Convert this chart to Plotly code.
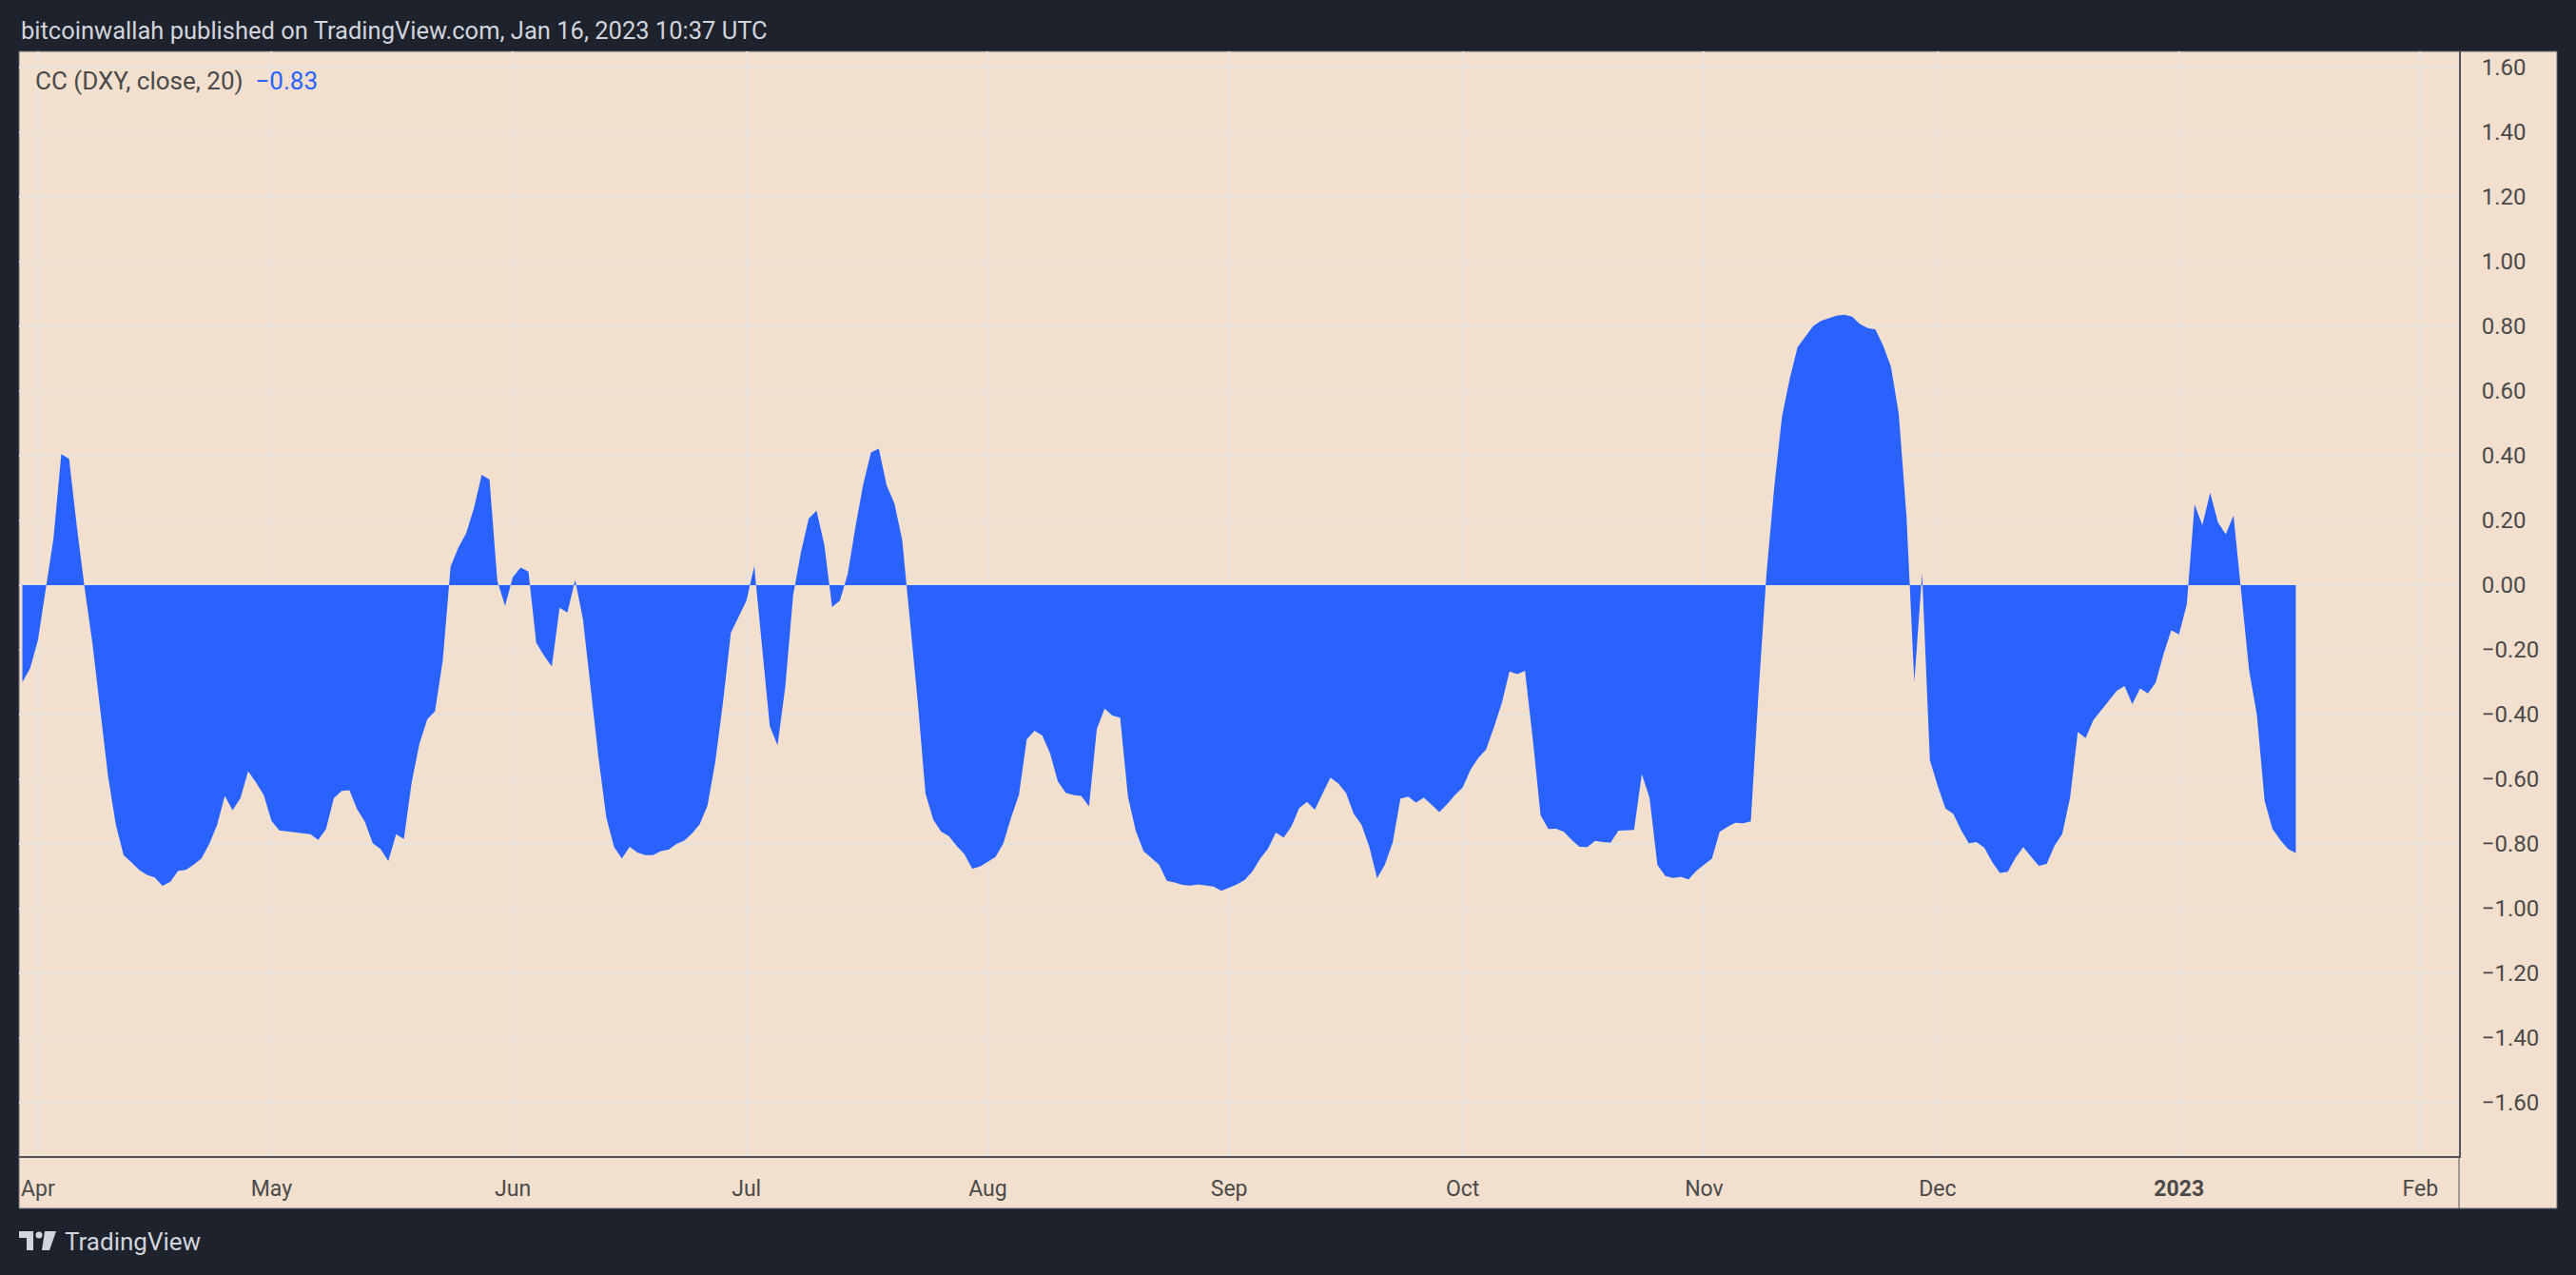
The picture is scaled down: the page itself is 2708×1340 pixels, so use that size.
import pandas as pd
import plotly.graph_objects as go

# CC (DXY, close, 20) - daily values, one list per month
cc_mar = [-0.30, -0.257]
cc_apr = [-0.17, -0.01, 0.145, 0.405, 0.39, 0.18, -0.01, -0.18, -0.39, -0.59,
          -0.74, -0.835, -0.857, -0.88, -0.896, -0.904, -0.93, -0.917, -0.883, -0.88,
          -0.864, -0.845, -0.80, -0.742, -0.652, -0.696, -0.659, -0.575, -0.61, -0.649]
cc_may = [-0.729, -0.758, -0.761, -0.764, -0.767, -0.77, -0.788, -0.754, -0.659, -0.636,
          -0.634, -0.693, -0.732, -0.798, -0.816, -0.853, -0.77, -0.785, -0.61, -0.49,
          -0.415, -0.39, -0.232, 0.057, 0.116, 0.16, 0.238, 0.341, 0.326, 0.013, -0.064]
cc_jun = [0.025, 0.054, 0.042, -0.178, -0.218, -0.252, -0.07, -0.085, 0.016, -0.105,
          -0.325, -0.534, -0.718, -0.81, -0.845, -0.809, -0.827, -0.835, -0.835, -0.822,
          -0.818, -0.80, -0.79, -0.768, -0.739, -0.681, -0.546, -0.36, -0.147, -0.095]
cc_jul = [-0.048, 0.059, -0.18, -0.436, -0.495, -0.311, -0.031, 0.101, 0.206, 0.23,
          0.125, -0.068, -0.048, 0.034, 0.18, 0.312, 0.41, 0.422, 0.309, 0.253,
          0.14, -0.105, -0.36, -0.644, -0.725, -0.762, -0.776, -0.806, -0.832, -0.877, -0.87]
cc_aug = [-0.855, -0.84, -0.798, -0.718, -0.649, -0.477, -0.45, -0.465, -0.52, -0.607,
          -0.642, -0.649, -0.652, -0.684, -0.445, -0.382, -0.403, -0.41, -0.654, -0.759,
          -0.822, -0.843, -0.864, -0.914, -0.919, -0.927, -0.929, -0.925, -0.929, -0.932, -0.945]
cc_sep = [-0.934, -0.925, -0.911, -0.885, -0.845, -0.814, -0.765, -0.78, -0.746, -0.689,
          -0.67, -0.694, -0.644, -0.595, -0.613, -0.642, -0.707, -0.741, -0.809, -0.906,
          -0.864, -0.796, -0.66, -0.654, -0.672, -0.657, -0.679, -0.702, -0.677, -0.649]
cc_oct = [-0.625, -0.571, -0.534, -0.508, -0.44, -0.366, -0.267, -0.275, -0.265, -0.477,
          -0.711, -0.754, -0.753, -0.763, -0.788, -0.809, -0.81, -0.791, -0.794, -0.796,
          -0.759, -0.759, -0.757, -0.584, -0.658, -0.864, -0.899, -0.905, -0.902, -0.91, -0.883]
cc_nov = [-0.864, -0.846, -0.763, -0.747, -0.735, -0.736, -0.73, -0.33, 0.03, 0.30,
          0.52, 0.638, 0.735, 0.768, 0.801, 0.817, 0.826, 0.833, 0.836, 0.83,
          0.807, 0.795, 0.79, 0.74, 0.675, 0.53, 0.212, -0.30, 0.036, -0.541]
cc_dec = [-0.62, -0.691, -0.707, -0.757, -0.798, -0.794, -0.812, -0.856, -0.89, -0.886,
          -0.843, -0.81, -0.84, -0.868, -0.862, -0.806, -0.769, -0.658, -0.454, -0.473,
          -0.417, -0.386, -0.356, -0.327, -0.312, -0.368, -0.319, -0.335, -0.302, -0.214, -0.14]
cc_jan = [-0.152, -0.059, 0.249, 0.185, 0.286, 0.194, 0.157, 0.215, -0.016, -0.263,
          -0.401, -0.667, -0.753, -0.788, -0.816, -0.828]

cc = cc_mar + cc_apr + cc_may + cc_jun + cc_jul + cc_aug + cc_sep + cc_oct + cc_nov + cc_dec + cc_jan
dates = pd.date_range('2022-03-30', periods=len(cc), freq='D')

month_ticks = pd.date_range('2022-04-01', '2023-02-01', freq='MS')
month_labels = ['Apr', 'May', 'Jun', 'Jul', 'Aug', 'Sep', 'Oct', 'Nov', 'Dec', '<b>2023</b>', 'Feb']

# colours
DARK = '#1e222d'
PEACH = '#f2dfce'
GRID = '#e6e2de'
BLUE = '#2962ff'
TEXT = '#4a4a4a'
LIGHT = '#d1d4dc'
BORDER = '#50535e'

# page geometry (px)
W, H = 2708, 1340
L, R, T, B = 20, 123, 54, 125
PW, PH = W - L - R, H - T - B


def px(x):
    return (x - L) / PW


def py(y):
    return (H - B - y) / PH


day0 = pd.Timestamp('2022-04-01')
x_range = [day0 - pd.Timedelta(days=2.43), day0 + pd.Timedelta(days=310.96)]

fig = go.Figure()
fig.add_trace(go.Scatter(x=dates, y=cc, mode='lines', fill='tozeroy',
                         fillcolor=BLUE, line=dict(width=0, color=BLUE),
                         hoverinfo='skip', showlegend=False))

shapes = [
    # chart pane incl. price and time axis panes
    dict(type='rect', xref='paper', yref='paper', x0=px(20), x1=px(2688),
         y0=py(1270), y1=py(54), fillcolor=PEACH,
         line=dict(color='#6a6d78', width=1), layer='below'),
    dict(type='line', xref='paper', yref='paper', x0=px(2585), x1=px(2585),
         y0=py(1215), y1=py(1270), line=dict(color=BORDER, width=1)),
    # TradingView logo
    dict(type='rect', xref='paper', yref='paper', x0=px(20), x1=px(35),
         y0=py(1301), y1=py(1294), fillcolor=LIGHT, line=dict(width=0)),
    dict(type='rect', xref='paper', yref='paper', x0=px(28), x1=px(35),
         y0=py(1314), y1=py(1294), fillcolor=LIGHT, line=dict(width=0)),
    dict(type='circle', xref='paper', yref='paper', x0=px(37.5), x1=px(44.5),
         y0=py(1301.5), y1=py(1294.5), fillcolor=LIGHT, line=dict(width=0)),
    dict(type='path', xref='paper', yref='paper',
         path=f'M {px(47)} {py(1294)} L {px(59)} {py(1294)} L {px(52)} {py(1314)} '
              f'L {px(44)} {py(1314)} Z',
         fillcolor=LIGHT, line=dict(width=0)),
]

annotations = [
    dict(text='bitcoinwallah published on TradingView.com, Jan 16, 2023 10:37 UTC',
         xref='paper', yref='paper', x=px(20), y=py(32), xanchor='left', yanchor='middle',
         showarrow=False, font=dict(size=25.5, color=LIGHT)),
    dict(text=f'CC (DXY, close, 20)  <span style="color:{BLUE}">\u22120.83</span>',
         xref='paper', yref='paper', x=px(35), y=py(85), xanchor='left', yanchor='middle',
         showarrow=False, font=dict(size=26, color=TEXT)),
    dict(text='TradingView', xref='paper', yref='paper', x=px(66), y=py(1305),
         xanchor='left', yanchor='middle', showarrow=False,
         font=dict(size=26, color=LIGHT)),
]

fig.update_layout(
    width=W, height=H,
    margin=dict(l=L, r=R, t=T, b=B),
    paper_bgcolor=DARK,
    plot_bgcolor=PEACH,
    font=dict(family='Roboto, sans-serif', color=TEXT),
    shapes=shapes,
    annotations=annotations,
    showlegend=False,
    xaxis=dict(range=x_range, tickvals=month_ticks, ticktext=month_labels,
               showgrid=True, gridcolor=GRID, gridwidth=1.5, zeroline=False,
               showline=True, linecolor=BORDER, linewidth=2, ticks='',
               ticklabelstandoff=12, tickfont=dict(size=23, color=TEXT)),
    yaxis=dict(range=[-1.765, 1.65], side='right', tick0=0, dtick=0.2,
               tickformat='.2f', showgrid=True, gridcolor=GRID, gridwidth=1.5,
               zeroline=False, showline=True, linecolor=BORDER, linewidth=2,
               ticks='', ticklabelstandoff=17, tickfont=dict(size=24, color=TEXT)),
)

fig.write_html('out.html', config={'displayModeBar': False},
               post_script="document.body.style.margin='0';"
                           "document.body.style.overflow='hidden';")
